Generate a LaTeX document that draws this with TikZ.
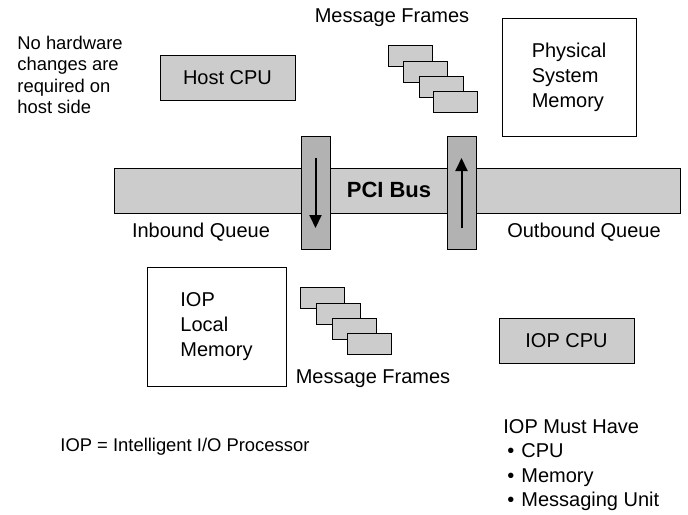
\documentclass[tikz,border=0pt]{standalone}
\usepackage{fontspec}
\setmainfont{Liberation Sans}
\usetikzlibrary{arrows.meta}

\begin{document}
\begin{tikzpicture}[x=0.5pt, y=-0.5pt,
    every node/.style={font=\fontsize{10}{12}\selectfont},
    graybox/.style={draw, fill=black!20, line width=0.5pt, minimum width=67.5pt, minimum height=22.5pt},
    membox/.style={draw, fill=white, line width=0.5pt, align=left, minimum width=67pt, minimum height=59pt, font=\fontsize{10}{12.5}\selectfont},
    msgframe/.style={draw, fill=black!20, line width=0.5pt, minimum width=22pt, minimum height=10.5pt, inner sep=0},
    queueslot/.style={draw, fill=black!30, line width=0.5pt, minimum width=14.5pt, minimum height=56.5pt, inner sep=0},
    flow/.style={-{Triangle[length=6.5pt, width=6pt]}, line width=1pt}]
    \useasboundingbox[fill=white] (0,0) rectangle (688,514);

    % host side
    \node[anchor=west, align=left, inner sep=0, font=\fontsize{9.2}{10.7}\selectfont] (note) at (17,75) {No hardware\\changes are\\required on\\host side};
    \node[graybox] (host) at (227.5,77.5) {Host CPU};
    \node[membox, minimum width=67pt, minimum height=59pt] (sysmem) at (569,77) {Physical\\System\\Memory};
    \node (topmsg) at (392,18) {Message Frames};
    \node[msgframe] (f1) at (410,56) {};
    \node[msgframe] (f2) at (425,71.5) {};
    \node[msgframe] (f3) at (441,86.5) {};
    \node[msgframe] (f4) at (455.5,102) {};

    % bus and queues
    \node[draw, fill=black!20, line width=0.5pt, minimum width=283pt, minimum height=22.5pt, inner sep=0] (bus) at (397.5,190.5) {};
    \node[font=\fontsize{11}{13}\selectfont\bfseries] (buslabel) at (389,190) {PCI Bus};
    \node[queueslot] (inq) at (315.5,192.5) {};
    \node[queueslot] (outq) at (461.5,192.5) {};
    \coordinate (inA) at (315.5,158);
    \coordinate (inB) at (315.5,228);
    \coordinate (outA) at (461.5,228);
    \coordinate (outB) at (461.5,158);
    \draw[flow] (inA) -- (inB);
    \draw[flow] (outA) -- (outB);
    \node (inlabel) at (201,232) {Inbound Queue};
    \node (outlabel) at (584,232) {Outbound Queue};

    % IOP side
    \node[membox, minimum width=69.5pt, minimum height=59.5pt] (localmem) at (216.5,326.5) {IOP\\Local\\Memory};
    \node[msgframe] (g1) at (322.5,297.5) {};
    \node[msgframe] (g2) at (338,313.5) {};
    \node[msgframe] (g3) at (354,328.5) {};
    \node[msgframe] (g4) at (369,344) {};
    \node (botmsg) at (373,379) {Message Frames};
    \node[graybox] (iopcpu) at (566.5,340.5) {IOP CPU};
    \node[anchor=west, inner sep=0, font=\fontsize{9.2}{11}\selectfont] (legend) at (60,447) {IOP = Intelligent I/O Processor};
    \node[anchor=west, align=left, inner sep=0, font=\fontsize{10}{12.3}\selectfont] (musthave) at (503,465)
        {IOP Must Have\\\hspace*{2pt}\textbullet\hspace{3.5pt}CPU\\\hspace*{2pt}\textbullet\hspace{3.5pt}Memory\\\hspace*{2pt}\textbullet\hspace{3.5pt}Messaging Unit};
\end{tikzpicture}
\end{document}
